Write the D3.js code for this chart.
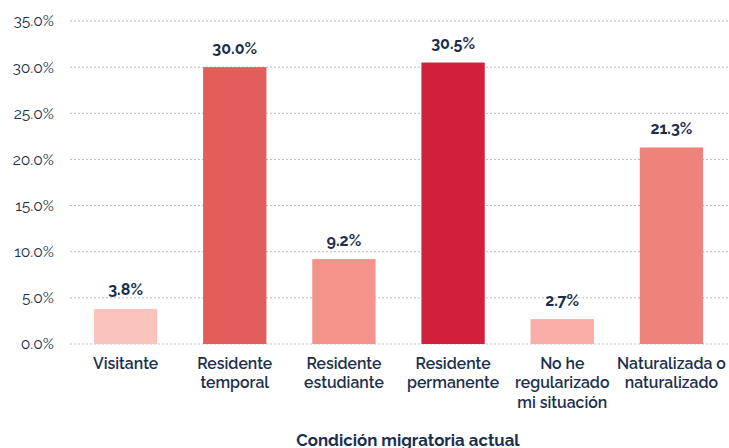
<!DOCTYPE html>
<html><head><meta charset="utf-8">
<script src="https://cdn.jsdelivr.net/npm/d3@7"></script>
<style>
body{margin:0;background:#fff;}
text{font-family:"Raleway","Noto Sans",sans-serif;}
</style></head>
<body><svg id="c" width="729" height="448"></svg>
<script>
const categories = [["Visitante"],["Residente","temporal"],["Residente","estudiante"],["Residente","permanente"],["No he","regularizado","mi situación"],["Naturalizada o","naturalizado"]];
const values = [3.8, 30.0, 9.2, 30.5, 2.7, 21.3];
const colors = ["#f9c4bb","#e35d5a","#f4938a","#d21f3c","#f8aea6","#f08379"];
const yTicks = [0,5,10,15,20,25,30,35];
const axisTitle = "Condición migratoria actual";

const svg = d3.select("#c");
const ink = "#1b2f4e";
const x = d3.scaleBand().domain(d3.range(values.length)).range([71,726]).paddingInner(0.42).paddingOuter(0.21);
const y = d3.scaleLinear().domain([0,35]).range([344,21]);

svg.append("g").selectAll("line").data(yTicks).join("line")
  .attr("x1",70).attr("x2",728).attr("y1",d=>y(d)).attr("y2",d=>y(d))
  .attr("stroke","#b8b8b8").attr("stroke-width",1).attr("stroke-dasharray","2,2");

svg.append("g").selectAll("text").data(yTicks).join("text")
  .attr("x",54).attr("y",d=>y(d)).attr("dy","0.35em").attr("text-anchor","end")
  .attr("font-size",15.6).attr("fill",ink).text(d=>d.toFixed(1)+"%");

svg.append("g").selectAll("rect").data(values).join("rect")
  .attr("x",(d,i)=>x(i)).attr("width",x.bandwidth())
  .attr("y",d=>y(d)).attr("height",d=>y(0)-y(d)).attr("fill",(d,i)=>colors[i]);

svg.append("g").selectAll("text").data(values).join("text")
  .attr("x",(d,i)=>x(i)+x.bandwidth()/2).attr("y",d=>y(d)-13.5)
  .attr("text-anchor","middle").attr("font-size",16).attr("font-weight","bold").attr("fill",ink)
  .text(d=>d.toFixed(1)+"%");

const cg = svg.append("g");
categories.forEach((lines,i)=>{
  const t = cg.append("text").attr("text-anchor","middle").attr("font-size",15.8).attr("font-weight",600).attr("fill",ink);
  lines.forEach((l,j)=>t.append("tspan").attr("x",x(i)+x.bandwidth()/2).attr("y",368.5+j*19.5).text(l));
});

svg.append("text").attr("x",408).attr("y",445.5).attr("text-anchor","middle")
  .attr("font-size",16.8).attr("font-weight","bold").attr("fill",ink).text(axisTitle);
</script></body></html>
